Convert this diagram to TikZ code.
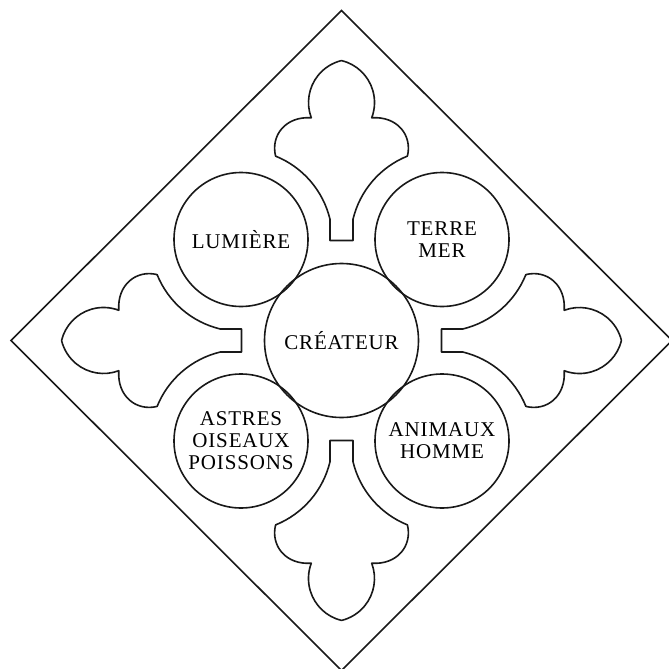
\documentclass[tikz,border=0pt]{standalone}
\usepackage{fontspec}
\setmainfont{Liberation Serif}[LetterSpace=4]
\usetikzlibrary{calc}
\begin{document}
\begin{tikzpicture}[x=1pt,y=1pt,
  ln/.style={draw=black!90, line width=1.6pt, line join=round},
  bigcirc/.style={ln, circle, minimum size=154pt, inner sep=0pt, align=center, font=\fontsize{21}{22}\selectfont},
  smallcirc/.style={ln, circle, minimum size=134pt, inner sep=0pt, align=center, font=\fontsize{21}{22}\selectfont}]
\useasboundingbox (0,0) rectangle (669,-669);
\coordinate (C) at (341.5,-340.5);
% diamond
\coordinate (dT) at (341.5,-10.5);
\coordinate (dL) at (11,-340.5);
\coordinate (dB) at (341.5,-670.5);
\coordinate (dR) at (672,-340.5);
\draw[ln, line join=miter] (dT) -- (dR) -- (dB) -- (dL) -- cycle;
% fleurs
\foreach \r in {0,90,180,270}{
  \begin{scope}[shift={(C)}, rotate=\r]
    \draw[ln] (-11.5,100) -- (-11.5,121.2)
      arc[start angle=13.47, end angle=68, radius=91]
      .. controls (-71,205) and (-56,224.5) .. (-30.2,222.7)
      arc[start angle=200.7, end angle=103.65, radius=43.2]
      arc[start angle=76.35, end angle=-20.7, radius=43.2]
      .. controls (56,224.5) and (71,205) .. (65.9,184.4)
      arc[start angle=112, end angle=166.53, radius=91]
      -- (11.5,100) -- cycle;
  \end{scope}
}
% circles
\node[bigcirc] (crea) at (C) {CRÉATEUR};
\node[smallcirc] (lum) at ($(C)+(-100.5,101)$) {LUMIÈRE};
\node[smallcirc] (terre) at ($(C)+(100.5,101)$) {TERRE\\MER};
\node[smallcirc] (astres) at ($(C)+(-100.5,-100.5)$) {ASTRES\\OISEAUX\\POISSONS};
\node[smallcirc] (anim) at ($(C)+(100.5,-100.5)$) {ANIMAUX\\HOMME};
\end{tikzpicture}
\end{document}
